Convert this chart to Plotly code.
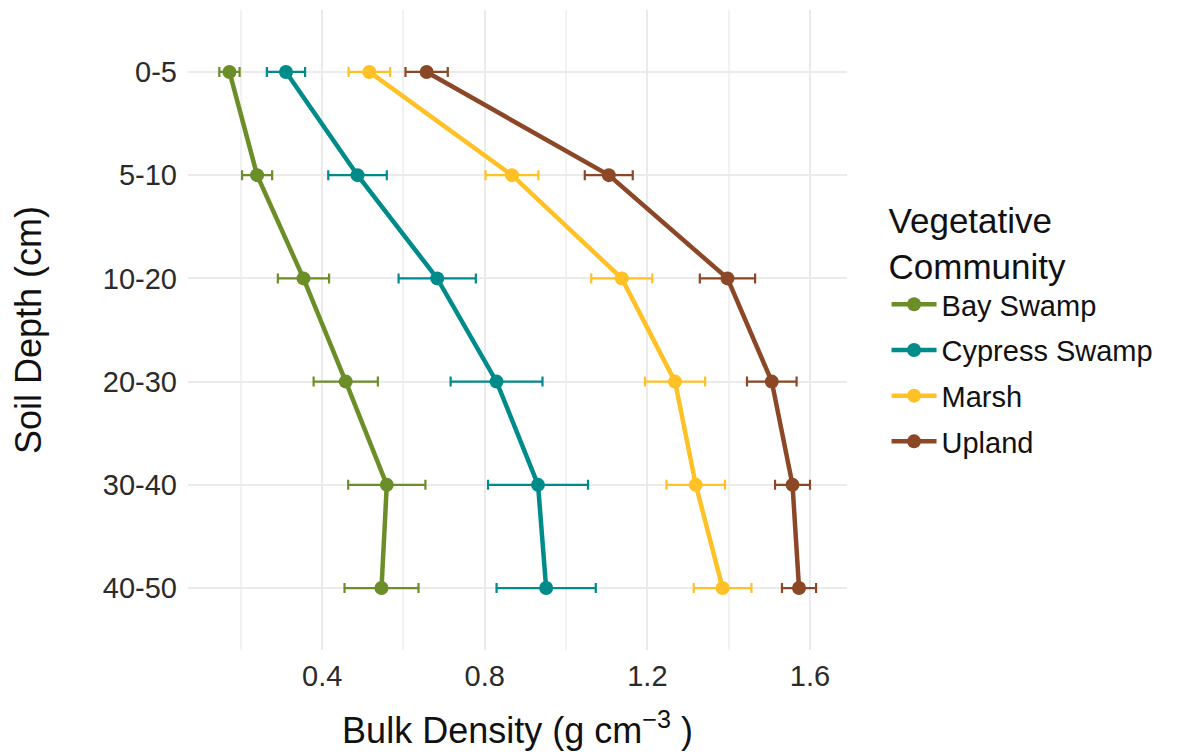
import plotly.graph_objects as go

# Soil depth intervals (top to bottom)
depths = ["0-5", "5-10", "10-20", "20-30", "30-40", "40-50"]

# Mean bulk density (g cm^-3) and standard error per community
bay_swamp = [0.172, 0.240, 0.354, 0.458, 0.559, 0.546]
bay_swamp_se = [0.025, 0.037, 0.063, 0.079, 0.095, 0.091]

cypress_swamp = [0.311, 0.487, 0.683, 0.829, 0.931, 0.951]
cypress_swamp_se = [0.047, 0.072, 0.095, 0.113, 0.123, 0.122]

marsh = [0.516, 0.867, 1.137, 1.268, 1.319, 1.385]
marsh_se = [0.051, 0.065, 0.075, 0.074, 0.072, 0.071]

upland = [0.657, 1.105, 1.397, 1.506, 1.557, 1.573]
upland_se = [0.052, 0.059, 0.068, 0.061, 0.043, 0.042]

communities = ["Bay Swamp", "Cypress Swamp", "Marsh", "Upland"]
colors = ["#6B8E28", "#008B8B", "#FFC125", "#8B4726"]
means = [bay_swamp, cypress_swamp, marsh, upland]
errors = [bay_swamp_se, cypress_swamp_se, marsh_se, upland_se]

FONT = "Liberation Sans, Arial, sans-serif"

fig = go.Figure()
for name, color, m, se in zip(communities, colors, means, errors):
    fig.add_trace(go.Scatter(
        x=m, y=depths, name=name, mode="lines+markers",
        legendgroup=name,
        line=dict(color=color, width=4.5),
        marker=dict(color=color, size=14),
        error_x=dict(type="data", array=se, visible=True,
                     color=color, thickness=2.2, width=5),
    ))

fig.update_layout(
    width=1187, height=755,
    margin=dict(l=188, r=340, t=10, b=105),
    paper_bgcolor="white", plot_bgcolor="white",
    font=dict(family=FONT, color="#1a1a1a"),
    xaxis=dict(
        range=[0.070, 1.691],
        tickvals=[0.4, 0.8, 1.2, 1.6],
        ticktext=["0.4", "0.8", "1.2", "1.6"],
        tickfont=dict(size=29, color="#2b2b2b"),
        showgrid=True, gridcolor="#EBEBEB", gridwidth=2,
        minor=dict(tickvals=[0.2, 0.6, 1.0, 1.4], showgrid=True,
                   gridcolor="#F2F2F2", gridwidth=1.5),
        zeroline=False, showline=False, ticks="",
        ticklabelstandoff=6,
        title=dict(text="Bulk Density (g cm<sup>−3</sup> )",
                   font=dict(size=36, color="#111111"), standoff=26),
    ),
    yaxis=dict(
        type="category",
        categoryorder="array", categoryarray=depths,
        range=[5.6, -0.6],
        tickfont=dict(size=29, color="#2b2b2b"),
        showgrid=True, gridcolor="#EBEBEB", gridwidth=2,
        zeroline=False, showline=False, ticks="",
        ticklabelstandoff=10,
        title=dict(text="Soil Depth (cm)",
                   font=dict(size=36, color="#111111"), standoff=50),
    ),
    legend=dict(
        title=dict(text="Vegetative<br>Community",
                   font=dict(size=35, color="#111111")),
        font=dict(size=29, color="#111111"),
        x=1.06, xanchor="left", y=0.722, yanchor="top",
        itemwidth=45, tracegroupgap=5, bgcolor="rgba(0,0,0,0)",
    ),
)

fig.write_html("out.html")
